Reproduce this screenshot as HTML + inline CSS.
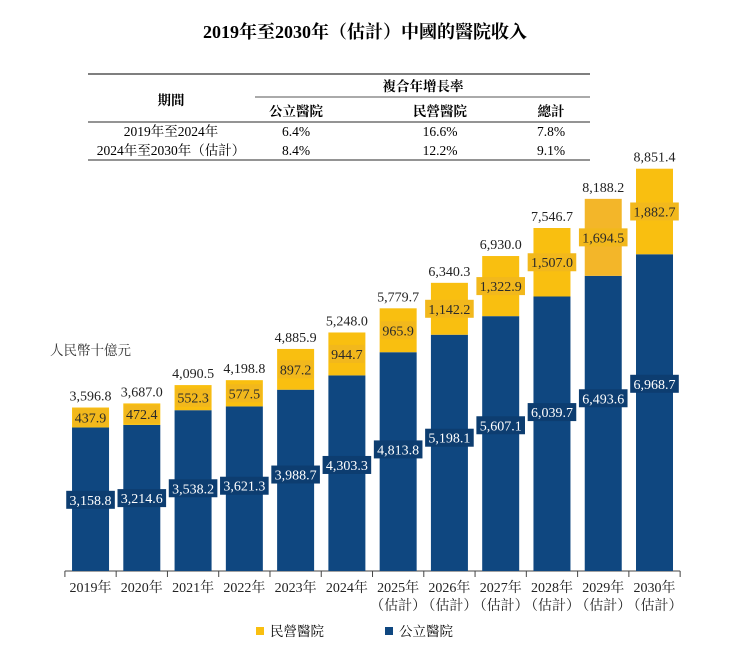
<!DOCTYPE html>
<html><head><meta charset="utf-8">
<style>
body{margin:0;background:#fff;width:730px;height:665px;overflow:hidden;font-family:"Liberation Serif","Noto Serif CJK SC","Noto Sans CJK TC",serif;color:#222}
</style></head>
<body>
<svg id="chart" width="730" height="665" style="position:absolute;left:0;top:0">
<text x="365" y="38" text-anchor="middle" font-size="18" font-weight="bold">2019年至2030年（估計）中國的醫院收入</text>
<g font-size="13.5">
<line x1="88" y1="74" x2="590" y2="74" stroke="#555" stroke-width="1.5"/>
<line x1="255" y1="97" x2="590" y2="97" stroke="#555" stroke-width="1"/>
<line x1="88" y1="122" x2="590" y2="122" stroke="#555" stroke-width="1.2"/>
<line x1="88" y1="160" x2="590" y2="160" stroke="#555" stroke-width="1.2"/>
<text x="171" y="105" text-anchor="middle" font-weight="bold">期間</text>
<text x="423" y="91" text-anchor="middle" font-weight="bold">複合年增長率</text>
<text x="296" y="116" text-anchor="middle" font-weight="bold">公立醫院</text>
<text x="440" y="116" text-anchor="middle" font-weight="bold">民營醫院</text>
<text x="551" y="116" text-anchor="middle" font-weight="bold">總計</text>
<text x="171" y="136" text-anchor="middle">2019年至2024年</text>
<text x="296" y="136" text-anchor="middle">6.4%</text>
<text x="440" y="136" text-anchor="middle">16.6%</text>
<text x="551" y="136" text-anchor="middle">7.8%</text>
<text x="171" y="155" text-anchor="middle">2024年至2030年（估計）</text>
<text x="296" y="155" text-anchor="middle">8.4%</text>
<text x="440" y="155" text-anchor="middle">12.2%</text>
<text x="551" y="155" text-anchor="middle">9.1%</text>
</g>
<text x="50" y="355" font-size="13.5" fill="#333">人民幣十億元</text>
<g id="bars"></g>
<g font-size="13.5">
<rect x="256" y="627" width="8" height="8" fill="#f9bf10"/>
<text x="270" y="636">民營醫院</text>
<rect x="385" y="627" width="8" height="8" fill="#0f4780"/>
<text x="399" y="636">公立醫院</text>
</g>
</svg>
<script>
const years = ["2019年","2020年","2021年","2022年","2023年","2024年","2025年","2026年","2027年","2028年","2029年","2030年"];
const estimated = [false,false,false,false,false,false,true,true,true,true,true,true];
const publicVals = [3158.8,3214.6,3538.2,3621.3,3988.7,4303.3,4813.8,5198.1,5607.1,6039.7,6493.6,6968.7];
const privateVals = [437.9,472.4,552.3,577.5,897.2,944.7,965.9,1142.2,1322.9,1507.0,1694.5,1882.7];
const totals = [3596.8,3687.0,4090.5,4198.8,4885.9,5248.0,5779.7,6340.3,6930.0,7546.7,8188.2,8851.4];

const NS="http://www.w3.org/2000/svg";
const g=document.getElementById('bars');
const base=571, k=0.04545, x0=64.9, step=51.27, bw=37;
const yS=v=>base-v*k;
const xC=i=>x0+step*i+step/2;
const fmt=v=>v.toLocaleString('en-US',{minimumFractionDigits:1,maximumFractionDigits:1});
function mk(t,a){const e=document.createElementNS(NS,t);for(const n in a)e.setAttribute(n,a[n]);g.appendChild(e);return e;}
function label(cx,cy,txt,bg,fg,name){
  const w=txt.length*6.8+1;
  const r=mk('rect',{x:cx-w/2,y:cy-9,width:w,height:18,fill:bg});
  
  
  const t=mk('text',{x:cx,y:cy+5,'text-anchor':'middle','font-size':14,fill:fg});
  t.textContent=txt;
  
  
}
const ax=mk('line',{x1:x0,y1:base,x2:x0+step*12,y2:base,stroke:'#444','stroke-width':1});


for(let i=0;i<=12;i++){
  const tk=mk('line',{x1:x0+step*i,y1:base,x2:x0+step*i,y2:base+6,stroke:'#444'});
  
  
}
years.forEach((y,i)=>{
  const cx=xC(i);
  const hp=publicVals[i]*k, hv=privateVals[i]*k;
  const pb=mk('rect',{x:cx-bw/2,y:base-hp,width:bw,height:hp,fill:'#0f4780'});
  
  
  const vb=mk('rect',{x:cx-bw/2,y:base-hp-hv,width:bw,height:hv,fill:i==10?'#f3b629':'#f9bf10'});
  
  
  label(cx,base-hp-hv/2,fmt(privateVals[i]),'#f2b81c','#2a2a2a','private-value-'+y.slice(0,4));
  label(cx,base-(0.67*hp-25),fmt(publicVals[i]),'#0d3d70','#fff','public-value-'+y.slice(0,4));
  const tt=mk('text',{x:cx,y:yS(totals[i])-7,'text-anchor':'middle','font-size':14,fill:'#222'});
  tt.textContent=fmt(totals[i]);
  
  
  const xl=mk('text',{x:cx,y:592,'text-anchor':'middle','font-size':14,fill:'#222'});
  xl.textContent=y;
  
  
  if(estimated[i]){
    const el=mk('text',{x:cx,y:610,'text-anchor':'middle','font-size':14,fill:'#222'});
    el.textContent='（估計）';
    
    
  }
});
</script>
</body></html>
